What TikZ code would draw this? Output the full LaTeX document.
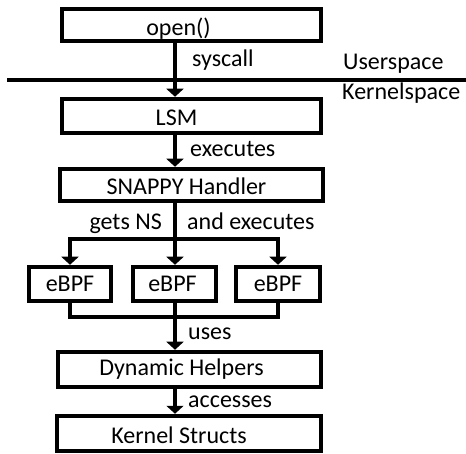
\documentclass[tikz,border=0pt]{standalone}
\usepackage{fontspec}
\setmainfont{Carlito}
\usetikzlibrary{arrows.meta}
\begin{document}
\begin{tikzpicture}[x=1pt,y=-1pt,
  box/.style={draw=black,line width=4.5pt,fill=white,inner sep=0pt},
  txt/.style={inner sep=0pt,font=\fontsize{24}{28}\selectfont},
  conn/.style={line width=4.5pt},
  arr/.style={conn,-{Triangle[width=17pt,length=8pt]}},
  lbl/.style={anchor=base west,inner sep=0pt,font=\fontsize{24}{28}\selectfont}]
\useasboundingbox (0,0) rectangle (466,454);
\coordinate (mx) at (175,0);
\node[box,minimum width=259pt,minimum height=32pt] (open) at (191.5,25) {};
\node[txt] (topen) at ([xshift=-13pt,yshift=-4pt]open.center) {open()};
\node[box,minimum width=259pt,minimum height=34pt] (lsm) at (191.5,116) {};
\node[txt] (tlsm) at ([xshift=-15pt,yshift=-1.5pt]lsm.center) {LSM};
\node[box,minimum width=263pt,minimum height=32pt] (snappy) at (191.5,185) {};
\node[txt] (tsnappy) at ([xshift=-5pt,yshift=-1.5pt]snappy.center) {SNAPPY Handler};
\node[box,minimum width=82pt,minimum height=34pt] (e1) at (70,284) {};
\node[txt] (te1) at (e1.center) {eBPF};
\node[box,minimum width=83pt,minimum height=34pt] (e2) at (174.5,284) {};
\node[txt] (te2) at ([xshift=-2pt]e2.center) {eBPF};
\node[box,minimum width=84pt,minimum height=34pt] (e3) at (278,284) {};
\node[txt] (te3) at (e3.center) {eBPF};
\node[box,minimum width=263pt,minimum height=35pt] (dyn) at (189.5,369.5) {};
\node[txt] (tdyn) at ([xshift=-8pt]dyn.center) {Dynamic Helpers};
\node[box,minimum width=264pt,minimum height=35pt] (ks) at (189,433.5) {};
\node[txt] (tks) at ([xshift=-10pt,yshift=-1.5pt]ks.center) {Kernel Structs};
% separator
\coordinate (hl) at (7,80);
\coordinate (hr) at (466,80);
\draw[conn] (hl) -- (hr);
\node[lbl] (us) at (343,70) {Userspace};
\node[lbl] (kspc) at (342,100) {Kernelspace};
% connectors
\draw[arr] (mx |- open.south) -- (mx |- lsm.north);
\node[lbl] (l1) at (192,67) {syscall};
\draw[arr] (mx |- lsm.south) -- (mx |- snappy.north);
\node[lbl] (l2) at (190,157) {executes};
\coordinate (b) at (175,239);
\draw[conn] (mx |- snappy.south) -- (b);
\draw[arr] (b) -| (e1.north);
\draw[arr] (b) -| (e3.north);
\draw[arr] (b) -- (e2.north -| b);
\node[lbl,anchor=base east] (l3) at (162,230) {gets NS};
\node[lbl] (l4) at (187,230) {and executes};
\coordinate (j) at (175,317);
\draw[conn] (e1.south) |- (j);
\draw[conn] (e3.south) |- (j);
\draw[conn] (e2.south -| j) -- (j);
\draw[arr] (j) -- (j |- dyn.north);
\node[lbl] (l5) at (188,340) {uses};
\draw[arr] (mx |- dyn.south) -- (mx |- ks.north);
\node[lbl] (l6) at (188,407) {accesses};
\end{tikzpicture}
\end{document}
